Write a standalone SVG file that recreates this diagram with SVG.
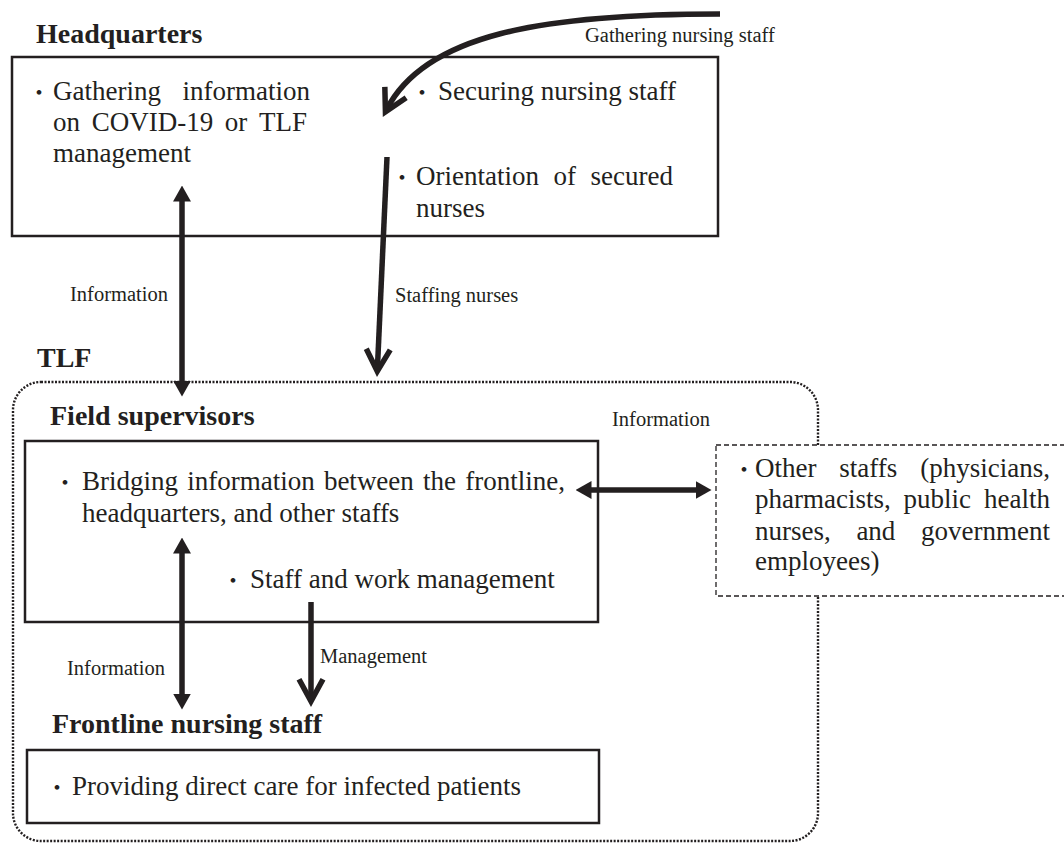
<svg xmlns="http://www.w3.org/2000/svg" width="1064" height="843" viewBox="0 0 1064 843">
<style>
  .body{font-family:"Liberation Serif","Times New Roman",serif;font-size:27px;fill:#231f20}
  .title{font-family:"Liberation Serif","Times New Roman",serif;font-size:28px;font-weight:bold;fill:#231f20}
  .lbl{font-family:"Liberation Serif","Times New Roman",serif;font-size:20.5px;fill:#231f20}
  .dot{font-family:"Noto Sans CJK JP","Noto Sans CJK SC",sans-serif;font-size:22px;fill:#231f20;text-anchor:middle}
  .box{fill:none;stroke:#231f20;stroke-width:2.5}
  .shaft{fill:none;stroke:#231f20;stroke-width:5.5}
</style>
<defs>
  <marker id="tri" viewBox="0 0 16 18" refX="0.5" refY="9" markerWidth="16" markerHeight="18" markerUnits="userSpaceOnUse" orient="auto-start-reverse">
    <path d="M0,0 L16,9 L0,18 z" fill="#231f20"/>
  </marker>
  <marker id="vee" viewBox="0 0 22 24" refX="19" refY="12" markerWidth="22" markerHeight="24" markerUnits="userSpaceOnUse" orient="auto" overflow="visible">
    <path d="M0,0 L22,12 L0,24" fill="none" stroke="#231f20" stroke-width="5.5" stroke-linejoin="miter"/>
  </marker>
</defs>
<rect width="1064" height="843" fill="#ffffff"/>

<g id="tlf">
  <path d="M41,382 H790 A28,28 0 0 1 818,410 V814 A28,28 0 0 1 790,841 H41 A28,28 0 0 1 13,814 V410 A28,28 0 0 1 41,382 Z" fill="none" stroke="#231f20" stroke-width="2.4" stroke-dasharray="2 1.5"/>
  <text class="title" x="37" y="367">TLF</text>
</g>

<g id="headquarters">
  <text class="title" x="36" y="43">Headquarters</text>
  <rect class="box" x="12" y="57" width="706" height="179"/>
  <text class="dot" x="39" y="100">・</text>
  <text class="body" y="100"><tspan x="53">Gathering</tspan><tspan x="182.5">information</tspan></text>
  <text class="body" y="131"><tspan x="53">on</tspan><tspan x="91.7">COVID-19</tspan><tspan x="224.8">or</tspan><tspan x="259">TLF</tspan></text>
  <text class="body" x="53" y="162">management</text>
  <text class="dot" x="422" y="100">・</text>
  <text class="body" x="438" y="100">Securing nursing staff</text>
  <text class="dot" x="402" y="185">・</text>
  <text class="body" y="185"><tspan x="416">Orientation</tspan><tspan x="553.5">of</tspan><tspan x="590.5">secured</tspan></text>
  <text class="body" x="416" y="217">nurses</text>
</g>

<g id="field-supervisors">
  <text class="title" x="50" y="425">Field supervisors</text>
  <rect class="box" x="25" y="441" width="573" height="181"/>
  <text class="dot" x="65" y="490">・</text>
  <text class="body" y="490"><tspan x="82">Bridging</tspan><tspan x="187.2">information</tspan><tspan x="323.9">between</tspan><tspan x="423.1">the</tspan><tspan x="465.3">frontline,</tspan></text>
  <text class="body" x="82" y="522">headquarters, and other staffs</text>
  <text class="dot" x="233" y="588">・</text>
  <text class="body" x="250" y="588">Staff and work management</text>
</g>

<g id="frontline">
  <text class="title" x="52" y="733">Frontline nursing staff</text>
  <rect class="box" x="27" y="750" width="572" height="73"/>
  <text class="dot" x="57" y="795">・</text>
  <text class="body" x="72" y="795">Providing direct care for infected patients</text>
</g>

<g id="other-staffs">
  <rect x="716" y="445" width="360" height="151" fill="#ffffff" stroke="#231f20" stroke-width="1.3" stroke-dasharray="5 3"/>
  <text class="dot" x="744" y="477">・</text>
  <text class="body" y="477"><tspan x="755">Other</tspan><tspan x="839.2">staffs</tspan><tspan x="920.3">(physicians,</tspan></text>
  <text class="body" y="508"><tspan x="755">pharmacists,</tspan><tspan x="903.6">public</tspan><tspan x="984">health</tspan></text>
  <text class="body" y="540"><tspan x="755">nurses,</tspan><tspan x="856.4">and</tspan><tspan x="921">government</tspan></text>
  <text class="body" x="755" y="570">employees)</text>
</g>

<g id="connectors">
  <path class="shaft" d="M720,14 C540,14 425,35 386.8,109.2" marker-end="url(#vee)"/>
  <text class="lbl" x="585" y="42">Gathering nursing staff</text>
  <path class="shaft" d="M387,157 L377.4,368.3" marker-end="url(#vee)"/>
  <text class="lbl" x="395" y="302">Staffing nurses</text>
  <path class="shaft" d="M182,201 V381" marker-start="url(#tri)" marker-end="url(#tri)"/>
  <text class="lbl" x="70" y="301">Information</text>
  <path class="shaft" d="M591,490 H696" marker-start="url(#tri)" marker-end="url(#tri)"/>
  <text class="lbl" x="612" y="426">Information</text>
  <path class="shaft" d="M182,553 V694" marker-start="url(#tri)" marker-end="url(#tri)"/>
  <text class="lbl" x="67" y="675">Information</text>
  <path class="shaft" d="M311,602 V698.3" stroke-width="5" marker-end="url(#vee)"/>
  <text class="lbl" x="320" y="663">Management</text>
</g>
</svg>
